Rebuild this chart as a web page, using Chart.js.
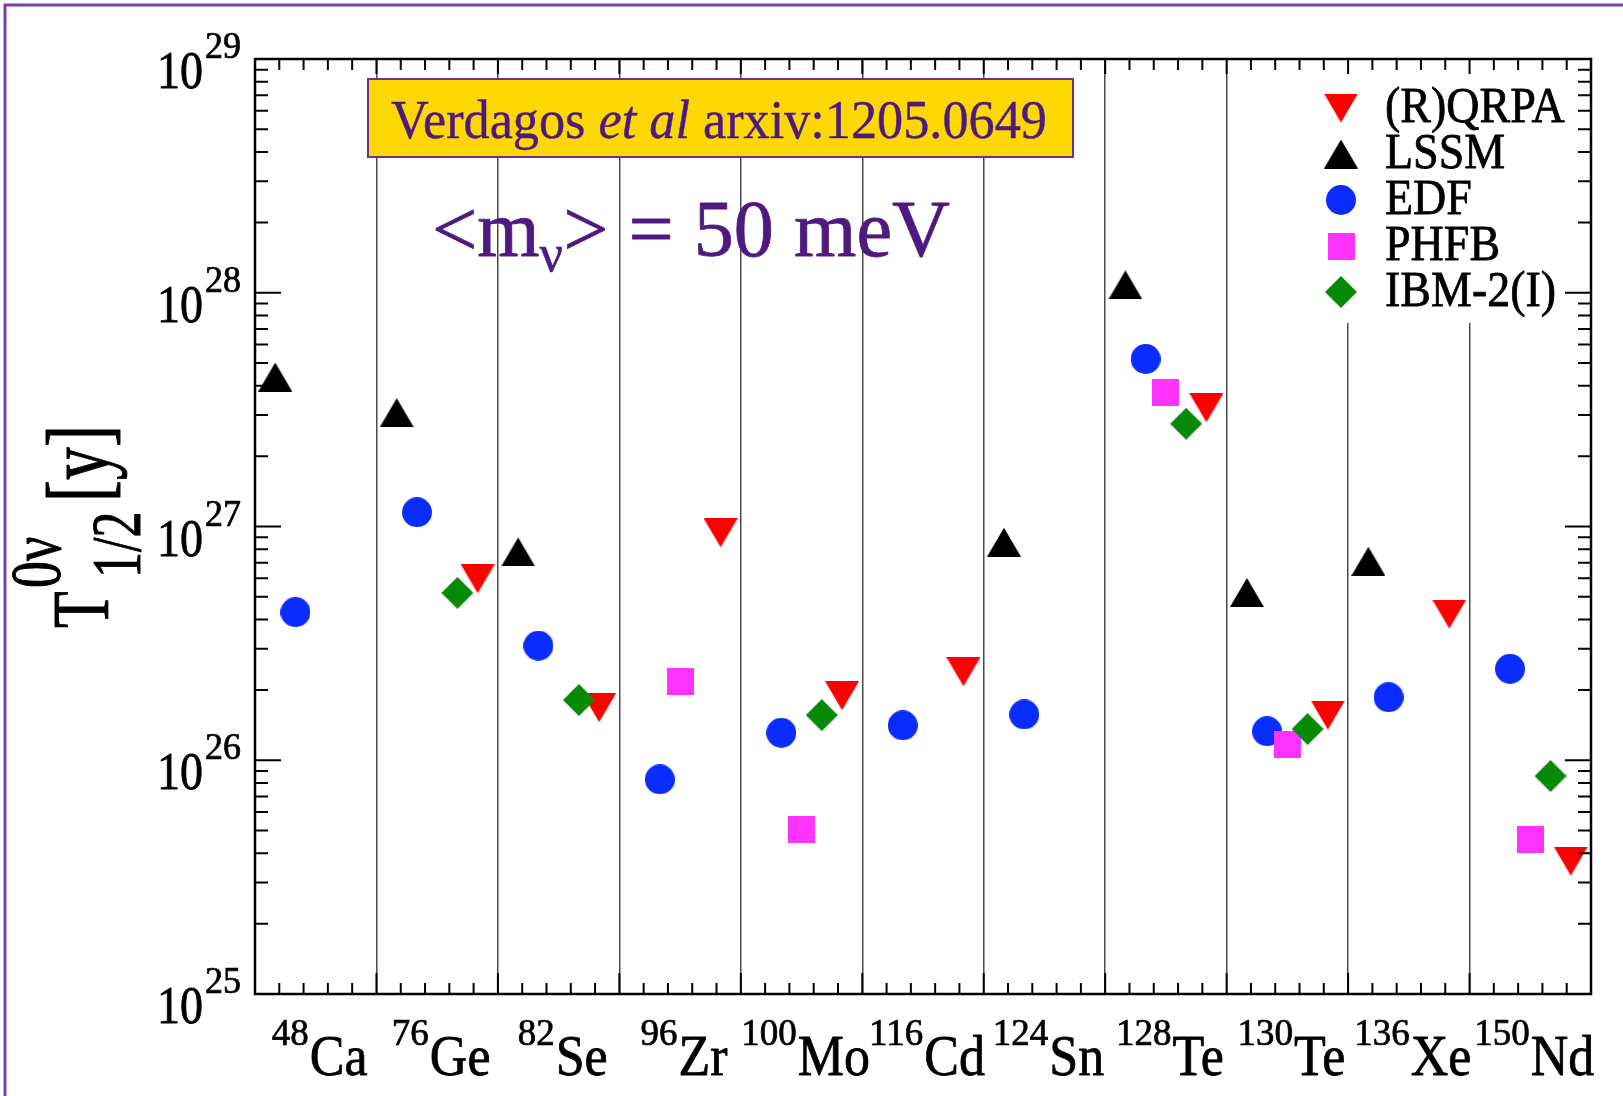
<!DOCTYPE html>
<html>
<head>
<meta charset="utf-8">
<title>0νββ half-lives, &lt;m_ν&gt; = 50 meV</title>
<script src="https://cdn.jsdelivr.net/npm/chart.js@4.4.1/dist/chart.umd.min.js"></script>
<style>
  html, body { margin: 0; padding: 0; background: #fff; }
  canvas { display: block; }
</style>
</head>
<body>
<canvas id="halfLifeChart" width="1623" height="1096"></canvas>
<script>
// ==================== DATA ====================
const isotopeMass = ['48', '76', '82', '96', '100', '116', '124', '128', '130', '136', '150'];
const isotopeName = ['Ca', 'Ge', 'Se', 'Zr', 'Mo', 'Cd', 'Sn', 'Te', 'Te', 'Xe', 'Nd'];

// T1/2 (years) per isotope, null where the model gives no number
const qrpaValues = [null, 5.98e26, 1.68e26, 9.4e26, 1.89e26, 2.39e26, null, 3.22e27, 1.56e26, 4.22e26, 3.7e25];
const lssmValues = [4.36e27, 3.07e27, 7.78e26, null, null, null, 8.56e26, 1.08e28, 5.22e26, 7.1e26, null];
const edfValues  = [4.3e26, 1.15e27, 3.09e26, 8.28e25, 1.31e26, 1.41e26, 1.57e26, 5.21e27, 1.33e26, 1.86e26, 2.46e26];
const phfbValues = [null, null, null, 2.18e26, 5.08e25, null, null, 3.74e27, 1.17e26, null, 4.6e25];
const ibmValues  = [null, 5.2e26, 1.81e26, null, 1.56e26, null, null, 2.75e27, 1.36e26, null, 8.56e25];

const yTickExponents = [25, 26, 27, 28, 29];

// ==================== STYLE ====================
const SERIF = '"Liberation Serif", "Times New Roman", serif';
const PURPLE_TEXT = '#4e1a80';

// marker shapes drawn once into small canvases, used as pointStyle
function makeMarker(shape, color) {
    const dims = { triUp: [34, 29], triDown: [34, 29], circle: [30, 30], square: [27, 27], diamond: [32, 32] };
    const [w, h] = dims[shape];
    const c = document.createElement('canvas');
    c.width = w; c.height = h;
    const g = c.getContext('2d');
    g.fillStyle = color;
    g.beginPath();
    switch (shape) {
        case 'triUp':   g.moveTo(0, h); g.lineTo(w / 2, 0); g.lineTo(w, h); break;
        case 'triDown': g.moveTo(0, 0); g.lineTo(w, 0); g.lineTo(w / 2, h); break;
        case 'circle':  g.arc(w / 2, h / 2, w / 2, 0, Math.PI * 2); break;
        case 'square':  g.rect(0, 0, w, h); break;
        case 'diamond': g.moveTo(w / 2, 0); g.lineTo(w, h / 2); g.lineTo(w / 2, h); g.lineTo(0, h / 2); break;
    }
    g.closePath();
    g.fill();
    return c;
}

// slot = position inside an isotope column, in sixths of the column
const MODELS = [
    { label: '(R)QRPA',  values: qrpaValues, color: '#ff0000', shape: 'triDown', slot: 5 },
    { label: 'LSSM',     values: lssmValues, color: '#000000', shape: 'triUp',   slot: 1 },
    { label: 'EDF',      values: edfValues,  color: '#0a2cff', shape: 'circle',  slot: 2 },
    { label: 'PHFB',     values: phfbValues, color: '#ff33ff', shape: 'square',  slot: 3 },
    { label: 'IBM-2(I)', values: ibmValues,  color: '#078a07', shape: 'diamond', slot: 4 },
];
MODELS.forEach(m => { m.marker = makeMarker(m.shape, m.color); });

// ==================== TEXT HELPERS ====================
function textWidth(g, text, px, style = '') {
    g.save();
    g.font = `${style} ${px}px ${SERIF}`;
    const w = g.measureText(text).width;
    g.restore();
    return w;
}

// fill text with an optional vertical stretch and a thin outline to thicken strokes
function putText(g, text, x, y, px, sy = 1, style = '', color = '#000', weight = 0.7) {
    g.save();
    g.translate(x, y);
    g.scale(1, sy);
    g.font = `${style} ${px}px ${SERIF}`;
    g.fillStyle = color;
    g.textBaseline = 'alphabetic';
    g.fillText(text, 0, 0);
    if (weight > 0) {
        g.strokeStyle = color;
        g.lineWidth = weight;
        g.lineJoin = 'round';
        g.strokeText(text, 0, 0);
    }
    g.restore();
    return textWidth(g, text, px, style);
}

// ==================== DECORATIONS ====================
const decorations = {
    id: 'decorations',
    beforeDatasetsDraw(chart) {
        const g = chart.ctx;
        const area = chart.chartArea;
        g.save();

        // legend backing, hides the column separators behind it
        g.fillStyle = '#fff';
        g.fillRect(1250, area.top + 2, area.right - 1252, 262);

        // reference box
        g.fillStyle = '#fcd700';
        g.fillRect(368, 79, 705, 78);
        g.strokeStyle = '#6b2f96';
        g.lineWidth = 2;
        g.strokeRect(368, 79, 705, 78);

        const refParts = [['Verdagos ', ''], ['et al', 'italic'], [' arxiv:1205.0649', '']];
        const refBase = refParts.reduce((s, p) => s + textWidth(g, p[0], 100, p[1]), 0);
        const refPx = 100 * 656 / refBase;
        let x = 391;
        refParts.forEach(([t, st]) => { x += putText(g, t, x, 138, refPx, 1.05, st, PURPLE_TEXT, 0.4); });

        // <m_nu> = 50 meV
        const mainBase = textWidth(g, '<m', 100) + textWidth(g, '> = 50 meV', 100) + textWidth(g, 'ν', 65);
        const mPx = 100 * 518 / mainBase;
        x = 432;
        x += putText(g, '<m', x, 256, mPx, 1.0, '', PURPLE_TEXT, 0.8);
        x += putText(g, 'ν', x, 271, mPx * 0.65, 1.0, '', PURPLE_TEXT, 0.6);
        putText(g, '> = 50 meV', x, 256, mPx, 1.0, '', PURPLE_TEXT, 0.8);

        g.restore();
    },
    afterDraw(chart) {
        const g = chart.ctx;
        const area = chart.chartArea;
        const xs = chart.scales.x;
        const ys = chart.scales.y;
        g.save();

        // outer purple frame (top and left)
        g.strokeStyle = '#7a3ea8';
        g.lineWidth = 3;
        g.beginPath();
        g.moveTo(5, 1096); g.lineTo(5, 5); g.lineTo(1623, 5);
        g.stroke();

        // ticks
        g.strokeStyle = '#000';
        g.lineWidth = 2;
        g.beginPath();
        for (let e = 25; e <= 29; e++) {
            const y = ys.getPixelForValue(Math.pow(10, e));
            g.moveTo(area.left, y); g.lineTo(area.left + 26, y);
            g.moveTo(area.right, y); g.lineTo(area.right - 26, y);
            if (e === 29) continue;
            for (let k = 2; k <= 9; k++) {
                const ym = ys.getPixelForValue(k * Math.pow(10, e));
                g.moveTo(area.left, ym); g.lineTo(area.left + 13, ym);
                g.moveTo(area.right, ym); g.lineTo(area.right - 13, ym);
            }
        }
        for (let i = 0; i < isotopeName.length; i++) {
            const xm = xs.getPixelForValue(i);
            g.moveTo(xm, area.bottom); g.lineTo(xm, area.bottom - 21);
            g.moveTo(xm, area.top); g.lineTo(xm, area.top + 15);
            for (let j = 1; j <= 4; j++) {
                const xt = xs.getPixelForValue(i + j / 5);
                g.moveTo(xt, area.bottom); g.lineTo(xt, area.bottom - 11);
                g.moveTo(xt, area.top); g.lineTo(xt, area.top + 11);
            }
        }
        g.stroke();

        // plot frame
        g.lineWidth = 2.5;
        g.strokeRect(area.left, area.top, area.right - area.left, area.bottom - area.top);

        // y tick labels 10^n
        yTickExponents.forEach(e => {
            const y = ys.getPixelForValue(Math.pow(10, e));
            const w10 = textWidth(g, '10', 46);
            putText(g, '10', area.left - 52 - w10, y + 29, 46, 1.17);
            putText(g, String(e), area.left - 50, y - 1, 36, 1.05);
        });

        // isotope labels
        isotopeName.forEach((name, i) => {
            const cx = xs.getPixelForValue(i + 0.5) + 4;
            const wSup = textWidth(g, isotopeMass[i], 37);
            const wMain = textWidth(g, name, 52);
            const x0 = cx - (wSup + 1 + wMain) / 2;
            putText(g, isotopeMass[i], x0, 1045, 37, 1.05);
            putText(g, name, x0 + wSup + 1, 1075, 52, 1.1);
        });

        // legend
        MODELS.forEach((m, k) => {
            const cy = 108 + 46 * k;
            g.drawImage(m.marker, 1341 - m.marker.width / 2, cy - m.marker.height / 2);
            putText(g, m.label, 1385, cy + 14, 46, 1.08);
        });

        // y axis title T^{0ν}_{1/2}[y], rotated
        g.translate(108, 628);
        g.rotate(-Math.PI / 2);
        const sy = 1.35;
        putText(g, 'T', 0, 0, 60, sy);
        putText(g, '0ν', 40, -48, 54, sy);
        putText(g, '1/2', 50, 32, 52, sy);
        putText(g, '[y]', 126, 0, 66, sy);

        g.restore();
    }
};

// ==================== CHART ====================
const cellEdges = isotopeName.map((_, i) => i).concat(isotopeName.length);

new Chart(document.getElementById('halfLifeChart').getContext('2d'), {
    type: 'scatter',
    data: {
        datasets: MODELS.map((m, k) => ({
            label: m.label,
            data: m.values
                .map((v, i) => (v === null ? null : { x: i + m.slot / 6, y: v }))
                .filter(Boolean),
            pointStyle: m.marker,
            pointRadius: 15,
            pointHoverRadius: 15,
            backgroundColor: m.color,
            borderColor: m.color,
            order: MODELS.length - k
        }))
    },
    options: {
        responsive: false,
        animation: false,
        devicePixelRatio: 1,
        events: [],
        layout: { padding: { left: 255, top: 59, right: 32, bottom: 102 } },
        plugins: { legend: { display: false }, tooltip: { enabled: false } },
        scales: {
            x: {
                type: 'linear',
                min: 0,
                max: isotopeName.length,
                afterBuildTicks: s => { s.ticks = cellEdges.map(v => ({ value: v })); },
                afterFit: s => { s.height = 0; },
                ticks: { display: false },
                grid: { color: '#4a4a4a', lineWidth: 1.5, drawTicks: false },
                border: { display: false }
            },
            y: {
                type: 'logarithmic',
                min: 1e25,
                max: 1e29,
                display: false
            }
        }
    },
    plugins: [decorations]
});
</script>
</body>
</html>
